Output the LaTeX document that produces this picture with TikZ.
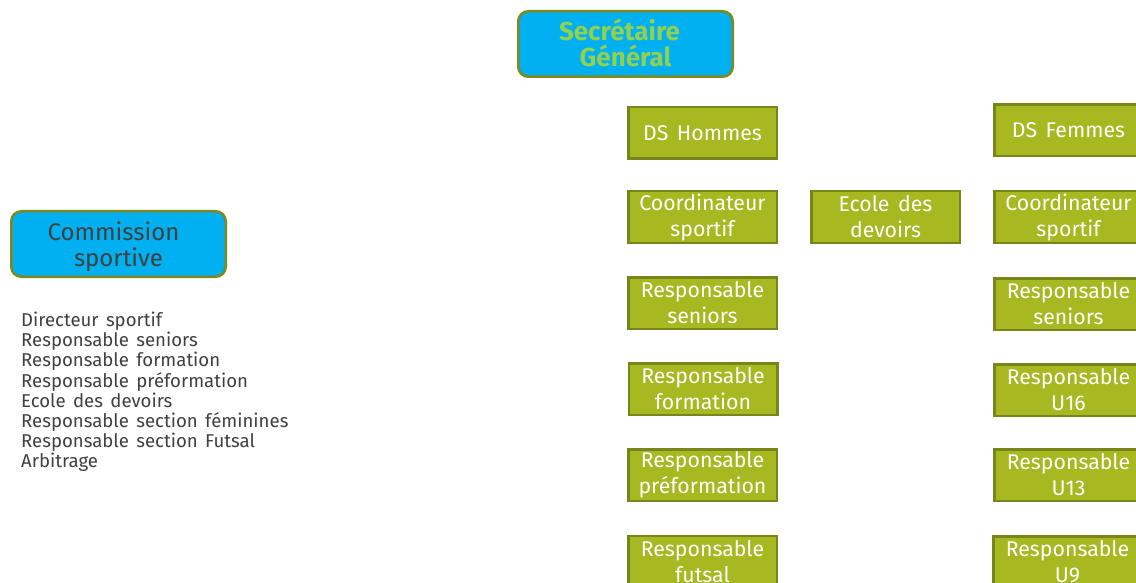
\documentclass[tikz,border=0pt]{standalone}
\usepackage{fontspec}
\setmainfont[WordSpace=1.5]{Fira Sans}
\definecolor{cyanbox}{HTML}{00B0F0}
\definecolor{olivebd}{HTML}{7F8A1A}
\definecolor{greenfill}{HTML}{A8B820}
\definecolor{greenbd}{HTML}{76861A}
\definecolor{lgreen}{HTML}{92D050}
\definecolor{darktext}{HTML}{404040}
\begin{document}
\begin{tikzpicture}[x=1pt,y=-1pt,
  bluebox/.style={draw=olivebd, line width=2.5pt, fill=cyanbox, rounded corners=10pt,
    minimum width=214.5pt, minimum height=65.5pt, inner sep=0pt, align=center},
  boxtext/.style={inner sep=0pt, align=center},
  greenbox/.style={draw=greenbd, line width=2.5pt, fill=greenfill, minimum width=148.5pt,
    minimum height=51.5pt, inner sep=0pt, align=center, text=white,
    font=\fontsize{21.3}{26}\selectfont}]
\useasboundingbox (0,0) rectangle (1136,583);
\clip (0,0) rectangle (1136,583);
\fill[white] (0,0) rectangle (1136,583);

\node[bluebox] (sg) at (625.5,44) {};
\node[boxtext, text=lgreen, font=\fontsize{26}{26}\selectfont\bfseries] (sgt) at ([xshift=-6pt,yshift=1pt]sg.center) {Secrétaire\\\hspace*{12pt}Général};
\node[bluebox] (cs) at (118.5,244) {};
\node[boxtext, text=darktext, font=\fontsize{24}{26}\selectfont] (cst) at ([yshift=-3pt]cs.center) {Commission\hspace*{10pt}\\sportive};

\node[anchor=north west, inner sep=0pt, align=left, text=darktext,
  font=\fontsize{18.6}{20.1}\selectfont] (list) at (21,312) {Directeur sportif\\
Responsable seniors\\
Responsable formation\\
Responsable préformation\\
Ecole des devoirs\\
Responsable section féminines\\
Responsable section Futsal\\
Arbitrage};

\node[greenbox] (dsh) at (702.5,133) {DS Hommes};
\node[greenbox] (coh) at (702.5,217) {Coordinateur\\sportif};
\node[greenbox] (rsh) at (702.5,303) {Responsable\\seniors};
\node[greenbox] (rfh) at (703,389) {Responsable\\formation};
\node[greenbox] (rph) at (702.5,475) {Responsable\\préformation};
\node[greenbox] (rfu) at (702.5,561.5) {Responsable\\futsal};
\node[greenbox] (ed) at (885.5,217) {Ecole des\\devoirs};
\node[greenbox] (dsf) at (1068.5,130.5) {DS Femmes};
\node[greenbox] (cof) at (1068.5,217) {Coordinateur\\sportif};
\node[greenbox] (rsf) at (1068.5,304) {Responsable\\seniors};
\node[greenbox] (r16) at (1068.5,390) {Responsable\\U16};
\node[greenbox] (r13) at (1068.5,475) {Responsable\\U13};
\node[greenbox] (r9) at (1067.5,562) {Responsable\\U9};
\end{tikzpicture}
\end{document}
